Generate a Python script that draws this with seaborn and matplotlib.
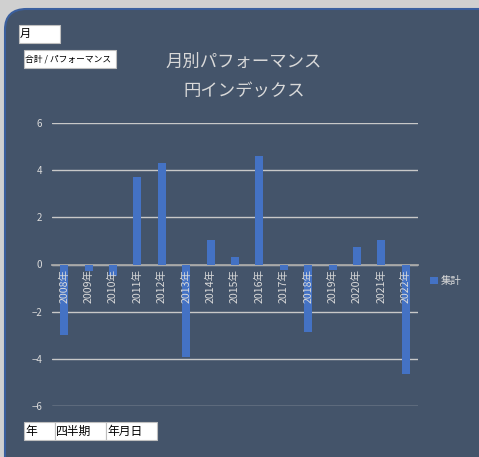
import pandas as pd
import matplotlib
matplotlib.use('Agg')
import matplotlib.pyplot as plt
import seaborn as sns
from matplotlib.patches import FancyBboxPatch, Rectangle, Patch

# データ
years = ['2008年', '2009年', '2010年', '2011年', '2012年', '2013年', '2014年', '2015年',
         '2016年', '2017年', '2018年', '2019年', '2020年', '2021年', '2022年']
values = [-3.0, -0.28, -0.5, 3.73, 4.31, -3.94, 1.05, 0.30,
          4.62, -0.24, -2.87, -0.24, 0.75, 1.06, -4.66]
title_lines = ['月別パフォーマンス', '円インデックス']
legend_label = '集計'

df = pd.DataFrame({'年': years, '集計': values})

sns.set_style('white')
plt.rcParams['font.family'] = ['Noto Sans CJK JP', 'DejaVu Sans']

W, H = 479, 457
fig = plt.figure(figsize=(W / 100, H / 100), dpi=100)
fig.patch.set_facecolor('#d0d0d0')

txt = '#d9d9d9'
bar_color = '#4472c4'

# 背景パネル
panel = FancyBboxPatch((5 / W, -0.2), 1.2, 1 - 9 / H + 0.2,
                       boxstyle='round,pad=0,rounding_size=0.045',
                       transform=fig.transFigure, facecolor='#44546a',
                       edgecolor='#3a5f9e', linewidth=1.5, zorder=-10)
fig.patches.append(panel)

ax = fig.add_axes([52 / W, 1 - 406 / H, 366 / W, 283 / H])
ax.set_facecolor('none')

sns.barplot(data=df, x='年', y='集計', color=bar_color, width=0.32,
            saturation=1, linewidth=0, ax=ax, zorder=3)

ax.set_xlim(-0.5, len(years) - 0.5)
ax.set_ylim(-6, 6)
ax.set_yticks([-6, -4, -2, 0, 2, 4, 6])
ax.set_xlabel('')
ax.set_ylabel('')

for s in ['top', 'right', 'left']:
    ax.spines[s].set_visible(False)
ax.spines['bottom'].set_position(('data', 0))
ax.spines['bottom'].set_color('#a6a6a6')
ax.spines['bottom'].set_linewidth(1.3)
ax.spines['bottom'].set_zorder(2)

ax.yaxis.grid(True, color='#c8c8c8', linewidth=1.0, zorder=1)
ax.set_axisbelow(True)
ax.xaxis.set_zorder(5)  # 年ラベルは棒の上に

ax.tick_params(axis='y', length=0, pad=7, labelsize=7, labelcolor=txt)
ax.tick_params(axis='x', length=0, pad=3, labelsize=7.6, labelcolor=txt)
for lab in ax.get_xticklabels():
    lab.set_rotation(90)
    lab.set_va('top')

# タイトル
fig.text(244 / W, 1 - 62 / H, title_lines[0], ha='center', va='center',
         fontsize=12.5, color=txt)
fig.text(244 / W, 1 - 91 / H, title_lines[1], ha='center', va='center',
         fontsize=12.5, color=txt)

# 凡例
handle = Patch(facecolor=bar_color, edgecolor='none', label=legend_label)
leg = ax.legend(handles=[handle], loc='center left',
                bbox_to_anchor=(425 / W, 1 - 281 / H),
                bbox_transform=fig.transFigure, frameon=False,
                fontsize=7.5, handlelength=0.7, handleheight=0.7,
                handletextpad=0.3, borderpad=0)
for t in leg.get_texts():
    t.set_color(txt)


# ピボットのフィールドボタン
def field_box(x0, y0, x1, y1, label, size):
    fig.patches.append(Rectangle((x0 / W, 1 - y1 / H), (x1 - x0) / W, (y1 - y0) / H,
                                 transform=fig.transFigure, facecolor='white',
                                 edgecolor='#bfbfbf', linewidth=0.8, zorder=4))
    fig.text((x0 + 1) / W, 1 - (y0 + y1) / 2 / H, label, ha='left', va='center',
             fontsize=size, color='black', zorder=5)


field_box(19, 25, 60, 43, '月', 8)
field_box(24, 50, 116, 68, '合計 / パフォーマンス', 6.3)
field_box(24, 422, 55, 440, '年', 8.5)
field_box(55, 422, 106, 440, '四半期', 8.5)
field_box(106, 422, 157, 440, '年月日', 8.5)

fig.savefig('out.png', dpi=100, facecolor=fig.get_facecolor())
